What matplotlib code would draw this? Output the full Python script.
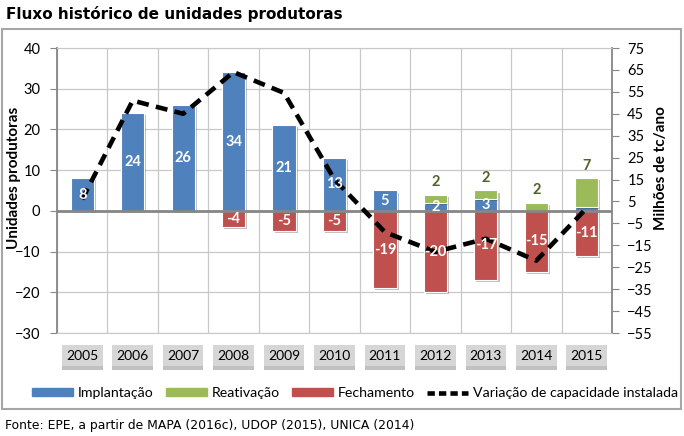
import matplotlib
matplotlib.use('Agg')
import matplotlib.pyplot as plt
import matplotlib.patheffects as pe
from matplotlib.patches import Rectangle, Patch
from matplotlib.lines import Line2D
import numpy as np

plt.rcParams['font.family'] = ['Lato', 'DejaVu Sans']

# dados
anos = ['2005', '2006', '2007', '2008', '2009', '2010', '2011', '2012', '2013', '2014', '2015']
implantacao = [8, 24, 26, 34, 21, 13, 5, 2, 3, 0, 1]
reativacao = [0, 0, 0, 0, 0, 0, 0, 2, 2, 2, 7]
fechamento = [0, 0, 0, -4, -5, -5, -19, -20, -17, -15, -11]
capacidade = [6, 51, 45, 64, 54.5, 15, -9, -18, -12, -22, 2]  # milhoes tc/ano

azul = '#4f81bd'
verde = '#9bbb59'
vermelho = '#c0504d'
cinza = '#868686'
grade = '#c8c8c8'

W, H = 684, 436
fig = plt.figure(figsize=(W / 100, H / 100), dpi=100)
ax = fig.add_axes([57 / W, 1 - 333 / H, 555 / W, 285 / H])

x = np.arange(len(anos))
impl = np.array(implantacao)
reat = np.array(reativacao)
fech = np.array(fechamento)
larg = 0.46
sombra = [pe.SimplePatchShadow(offset=(1.5, -1.5), shadow_rgbFace='k', alpha=0.25), pe.Normal()]

m = impl != 0
ax.bar(x[m], impl[m], larg, color=azul, edgecolor='white', lw=0.8, zorder=3, path_effects=sombra)
m = reat != 0
ax.bar(x[m], reat[m], larg, bottom=impl[m], color=verde, edgecolor='white', lw=0.8, zorder=3,
       path_effects=sombra)
m = fech != 0
ax.bar(x[m], fech[m], larg, color=vermelho, edgecolor='white', lw=0.8, zorder=3, path_effects=sombra)

ax.axhline(0, color=cinza, lw=2, zorder=4)

ax.set_xlim(-0.5, len(anos) - 0.5)
ax.set_ylim(-30, 40)
ax.set_yticks(range(-30, 41, 10))
ax.set_xticks(x, anos)
ax.set_xticks(np.arange(-0.5, len(anos), 1), minor=True)
ax.grid(axis='y', color=grade, lw=0.9, zorder=0)
ax.grid(axis='x', which='minor', color=grade, lw=0.9, zorder=0)
ax.tick_params(axis='x', which='both', length=0, pad=12, labelsize=10)
ax.tick_params(axis='y', direction='out', length=5, color=cinza, pad=7, labelsize=10.5)
for s in ['top', 'bottom']:
    ax.spines[s].set_color(grade)
for s in ['left', 'right']:
    ax.spines[s].set_color(cinza)
    ax.spines[s].set_linewidth(1.3)

for lab in ax.get_xticklabels():
    lab.set_bbox(dict(boxstyle='square,pad=0.3', fc='#d6d6d6', ec='none'))
    lab.get_bbox_patch().set_path_effects(
        [pe.SimplePatchShadow(offset=(0, -3), shadow_rgbFace='#777777', alpha=0.45), pe.Normal()])

ax2 = ax.twinx()
ax2.set_ylim(-55, 75)
ax2.set_yticks(range(-55, 76, 10))
ax2.tick_params(axis='y', direction='out', length=5, color=cinza, pad=6, labelsize=10.5)
for s in ax2.spines.values():
    s.set_visible(False)
ax2.plot(x, capacidade, color='black', lw=3.3, ls=(0, (2.6, 1.6)), zorder=2)

fig.text(14 / W, 1 - 178 / H, 'Unidades produtoras', rotation=90, ha='center', va='center',
         fontsize=11, fontweight='bold')
fig.text(661 / W, 1 - 168 / H, 'Milhões de tc/ano', rotation=90, ha='center', va='center',
         fontsize=11, fontweight='bold')

# rotulos das barras
for i in range(len(anos)):
    if implantacao[i] >= 2:
        ax2.text(x[i], implantacao[i] / 2, str(implantacao[i]), transform=ax.transData,
                 ha='center', va='center', color='white', fontsize=10.5, fontweight='bold', zorder=5)
    if reativacao[i] > 0:
        ax2.annotate(str(reativacao[i]), (x[i], implantacao[i] + reativacao[i]), xycoords=ax.transData,
                     xytext=(0, 4), textcoords='offset points', ha='center', va='bottom',
                     color='#4f6228', fontsize=10.5, fontweight='bold', zorder=5)
    if fechamento[i] < 0:
        ax2.text(x[i], fechamento[i] / 2, str(fechamento[i]), transform=ax.transData,
                 ha='center', va='center', color='white', fontsize=10.5, fontweight='bold', zorder=5)

handles = [Patch(color=azul), Patch(color=verde), Patch(color=vermelho),
           Line2D([], [], color='black', lw=3.3, ls=(0, (1.6, 0.9)))]
labels = ['Implantação', 'Reativação', 'Fechamento', 'Variação de capacidade instalada']
fig.legend(handles, labels, ncol=4, loc='center', bbox_to_anchor=(355 / W, 1 - 393 / H),
           frameon=False, handlelength=2.9, handleheight=0.45, columnspacing=0.9,
           handletextpad=0.3, fontsize=10.2)

fig.patches.append(Rectangle((2 / W, 1 - 409 / H), 679 / W, 380 / H, transform=fig.transFigure,
                             fill=False, ec='#a6a6a6', lw=1.5))

fig.text(6 / W, 1 - 14 / H, 'Fluxo histórico de unidades produtoras', fontsize=11,
         fontweight='bold', va='center', family='DejaVu Sans')
fig.text(5 / W, 1 - 425 / H, 'Fonte: EPE, a partir de MAPA (2016c), UDOP (2015), UNICA (2014)',
         fontsize=8.9, va='center', family='DejaVu Sans')

fig.savefig('out.png', dpi=100)
